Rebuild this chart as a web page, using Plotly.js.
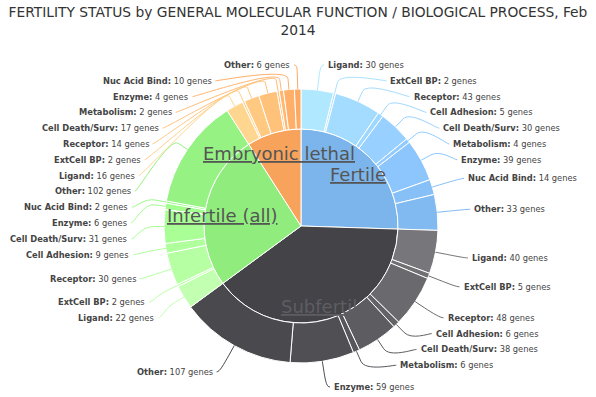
<!DOCTYPE html>
<html><head><meta charset="utf-8">
<script src="https://cdn.plot.ly/plotly-3.0.1.min.js"></script>
<style>html,body{margin:0;padding:0;background:#fff}#chart{width:596px;height:397px}</style>
</head><body><div id="chart"></div>
<script>
// ---------------- data ----------------
const groupNames = ['Fertile', 'Subfertile', 'Infertile (all)', 'Embryonic lethal'];
const fertileFunctions = ['Ligand','ExtCell BP','Receptor','Cell Adhesion','Cell Death/Surv','Metabolism','Enzyme','Nuc Acid Bind','Other'];
const fertileGenes = [30, 2, 43, 5, 30, 4, 39, 14, 33];
const subfertileFunctions = ['Ligand','ExtCell BP','Receptor','Cell Adhesion','Cell Death/Surv','Metabolism','Enzyme','Other'];
const subfertileGenes = [40, 5, 48, 6, 38, 6, 59, 107];
const infertileFunctions = ['Ligand','ExtCell BP','Receptor','Cell Adhesion','Cell Death/Surv','Enzyme','Nuc Acid Bind','Other'];
const infertileGenes = [22, 2, 30, 9, 31, 6, 2, 102];
const embryonicFunctions = ['Ligand','ExtCell BP','Receptor','Cell Death/Surv','Metabolism','Enzyme','Nuc Acid Bind','Other'];
const embryonicGenes = [16, 2, 14, 17, 2, 4, 10, 6];
const unitLabel = 'genes';
const chartTitle = 'FERTILITY STATUS by GENERAL MOLECULAR FUNCTION / BIOLOGICAL PROCESS, Feb<br>2014';

// ---------------- style / geometry ----------------
const groupColors = ['#7cb5ec', '#434348', '#90ed7d', '#f7a35c'];
const W = 596, H = 397;
const CX = 301, CY = 226, R_OUT = 137, R_IN = 97;
const LABEL_DIST = 30, SLOT_H = 15.8, PLOT_TOP = 65, PLOT_BOTTOM = 387, CONN_OFF = 11;
const FONT = '"DejaVu Sans", Verdana, sans-serif';
const LABEL_SIZE = 8.3, INNER_SIZE = 18;

const groupFunctions = [fertileFunctions, subfertileFunctions, infertileFunctions, embryonicFunctions];
const groupGenes = [fertileGenes, subfertileGenes, infertileGenes, embryonicGenes];
const groupTotals = groupGenes.map(a => a.reduce((s, v) => s + v, 0));
const total = groupTotals.reduce((s, v) => s + v, 0);

function brighten(hex, a) {
  const n = parseInt(hex.slice(1), 16);
  const add = parseInt(255 * a, 10);
  const c = [(n >> 16) & 255, (n >> 8) & 255, n & 255].map(v => Math.max(0, Math.min(255, v + add)));
  return 'rgb(' + c.join(',') + ')';
}
const px = x => x / W, py = y => 1 - y / H;
const rad = d => d * Math.PI / 180;

const outerLabels = [], outerValues = [], outerColors = [], points = [];
let cum = 0;
groupGenes.forEach((genes, g) => {
  genes.forEach((v, j) => {
    const col = brighten(groupColors[g], 0.2 - (j / genes.length) / 5);
    outerLabels.push(groupNames[g] + ' – ' + groupFunctions[g][j]);
    outerValues.push(v);
    outerColors.push(col);
    const start = cum / total * 360; cum += v; const end = cum / total * 360;
    points.push({name: groupFunctions[g][j], y: v, color: col, mid: (start + end) / 2});
  });
});

// ---------- Highcharts-like label placement ----------
const RL = R_OUT + LABEL_DIST;
function getX(y, left) {
  const s = Math.max(-1, Math.min(1, (y - CY) / RL));
  return CX + (left ? -1 : 1) * Math.cos(Math.asin(s)) * RL;
}
function makeSlots() {
  const s = [];
  for (let pos = Math.max(PLOT_TOP, CY - RL); pos <= Math.min(CY + RL, PLOT_BOTTOM) + 0.01; pos += SLOT_H) s.push(pos);
  return s;
}
const annotations = [], shapes = [];
[false, true].forEach(left => {
  const pts = points.filter(p => left ? p.mid > 180 : p.mid <= 180);
  pts.forEach(p => { p.natY = CY - RL * Math.cos(rad(p.mid)); });
  pts.sort((a, b) => a.natY - b.natY);
  const slots = makeSlots(), allSlots = makeSlots();
  const sl = slots.length, len = pts.length, used = [];
  for (let j = 0; j < len; j++) {
    let closest = 1e9, si = 0;
    for (let k = 0; k < sl; k++) {
      const d = Math.abs(slots[k] - pts[j].natY);
      if (d < closest) { closest = d; si = k; }
    }
    if (si < j && slots[j] !== null) si = j;
    else if (sl < len - j + si && slots[j] !== null) { si = sl - len + j; while (slots[si] === null) si++; }
    else { while (slots[si] === null) si++; }
    used.push({i: si});
    slots[si] = null;
  }
  used.sort((a, b) => a.i - b.i);
  pts.forEach((p, j) => {
    const s = used[j];
    let y = allSlots[s.i];
    if ((p.natY > y && slots[s.i + 1] !== null) || (p.natY < y && slots[s.i - 1] !== null)) {
      y = Math.min(Math.max(PLOT_TOP, p.natY), PLOT_BOTTOM);
    }
    const x = getX((s.i === 0 || s.i === sl - 1) ? p.natY : y, left);
    const dir = [Math.sin(rad(p.mid)), -Math.cos(rad(p.mid))];
    const base = [CX + R_OUT * dir[0], CY + R_OUT * dir[1]];
    const brk = [base[0] + CONN_OFF * dir[0], base[1] + CONN_OFF * dir[1]];
    const ctl = [base[0] + 2 * CONN_OFF * dir[0], base[1] + 2 * CONN_OFF * dir[1]];
    const sx = x + (left ? -3 : 3);
    shapes.push({
      type: 'path', xref: 'paper', yref: 'paper',
      path: `M${px(sx)},${py(y)} C${px(x)},${py(y)} ${px(ctl[0])},${py(ctl[1])} ${px(brk[0])},${py(brk[1])} L${px(base[0])},${py(base[1])}`,
      line: {color: p.color, width: 1}
    });
    annotations.push({
      xref: 'paper', yref: 'paper', x: px(x + (left ? -5 : 5)), y: py(y),
      xanchor: left ? 'right' : 'left', yanchor: 'middle', showarrow: false,
      text: '<b>' + p.name + ':</b> ' + p.y + ' ' + unitLabel,
      font: {family: FONT, size: LABEL_SIZE, color: '#444444'}
    });
  });
});

// inner labels
let gcum = 0;
groupTotals.forEach((t, g) => {
  const mid = (gcum + t / 2) / total * 360; gcum += t;
  const r = 80;
  annotations.push({
    xref: 'paper', yref: 'paper',
    x: px(CX + r * Math.sin(rad(mid))), y: py(CY - r * Math.cos(rad(mid)) + 4),
    xanchor: 'center', yanchor: 'middle', showarrow: false,
    text: '<u>' + groupNames[g] + '</u>',
    font: {family: FONT, size: INNER_SIZE, color: g === 1 ? '#5e5e62' : '#555555'}
  });
});

const traces = [
  {
    type: 'pie', labels: groupNames, values: groupTotals, sort: false, direction: 'clockwise', rotation: 0,
    marker: {colors: groupColors, line: {color: '#ffffff', width: 1}},
    textinfo: 'none', hoverinfo: 'label+value', showlegend: false,
    domain: {x: [px(CX - R_IN), px(CX + R_IN)], y: [py(CY + R_IN), py(CY - R_IN)]}
  },
  {
    type: 'pie', labels: outerLabels, values: outerValues, sort: false, direction: 'clockwise', rotation: 0,
    hole: R_IN / R_OUT,
    marker: {colors: outerColors, line: {color: '#ffffff', width: 1}},
    textinfo: 'none', hoverinfo: 'label+value', showlegend: false,
    domain: {x: [px(CX - R_OUT), px(CX + R_OUT)], y: [py(CY + R_OUT), py(CY - R_OUT)]}
  }
];

const layout = {
  width: W, height: H, margin: {l: 0, r: 0, t: 0, b: 0},
  paper_bgcolor: '#ffffff', plot_bgcolor: '#ffffff', showlegend: false,
  title: {text: chartTitle, font: {family: FONT, size: 13.8, color: '#333333'},
          x: 0.5, xanchor: 'center', xref: 'paper', y: 1 - 17 / H, yanchor: 'middle', yref: 'container'},
  annotations: annotations, shapes: shapes
};
Plotly.newPlot('chart', traces, layout, {displayModeBar: false, staticPlot: true});
</script></body></html>
